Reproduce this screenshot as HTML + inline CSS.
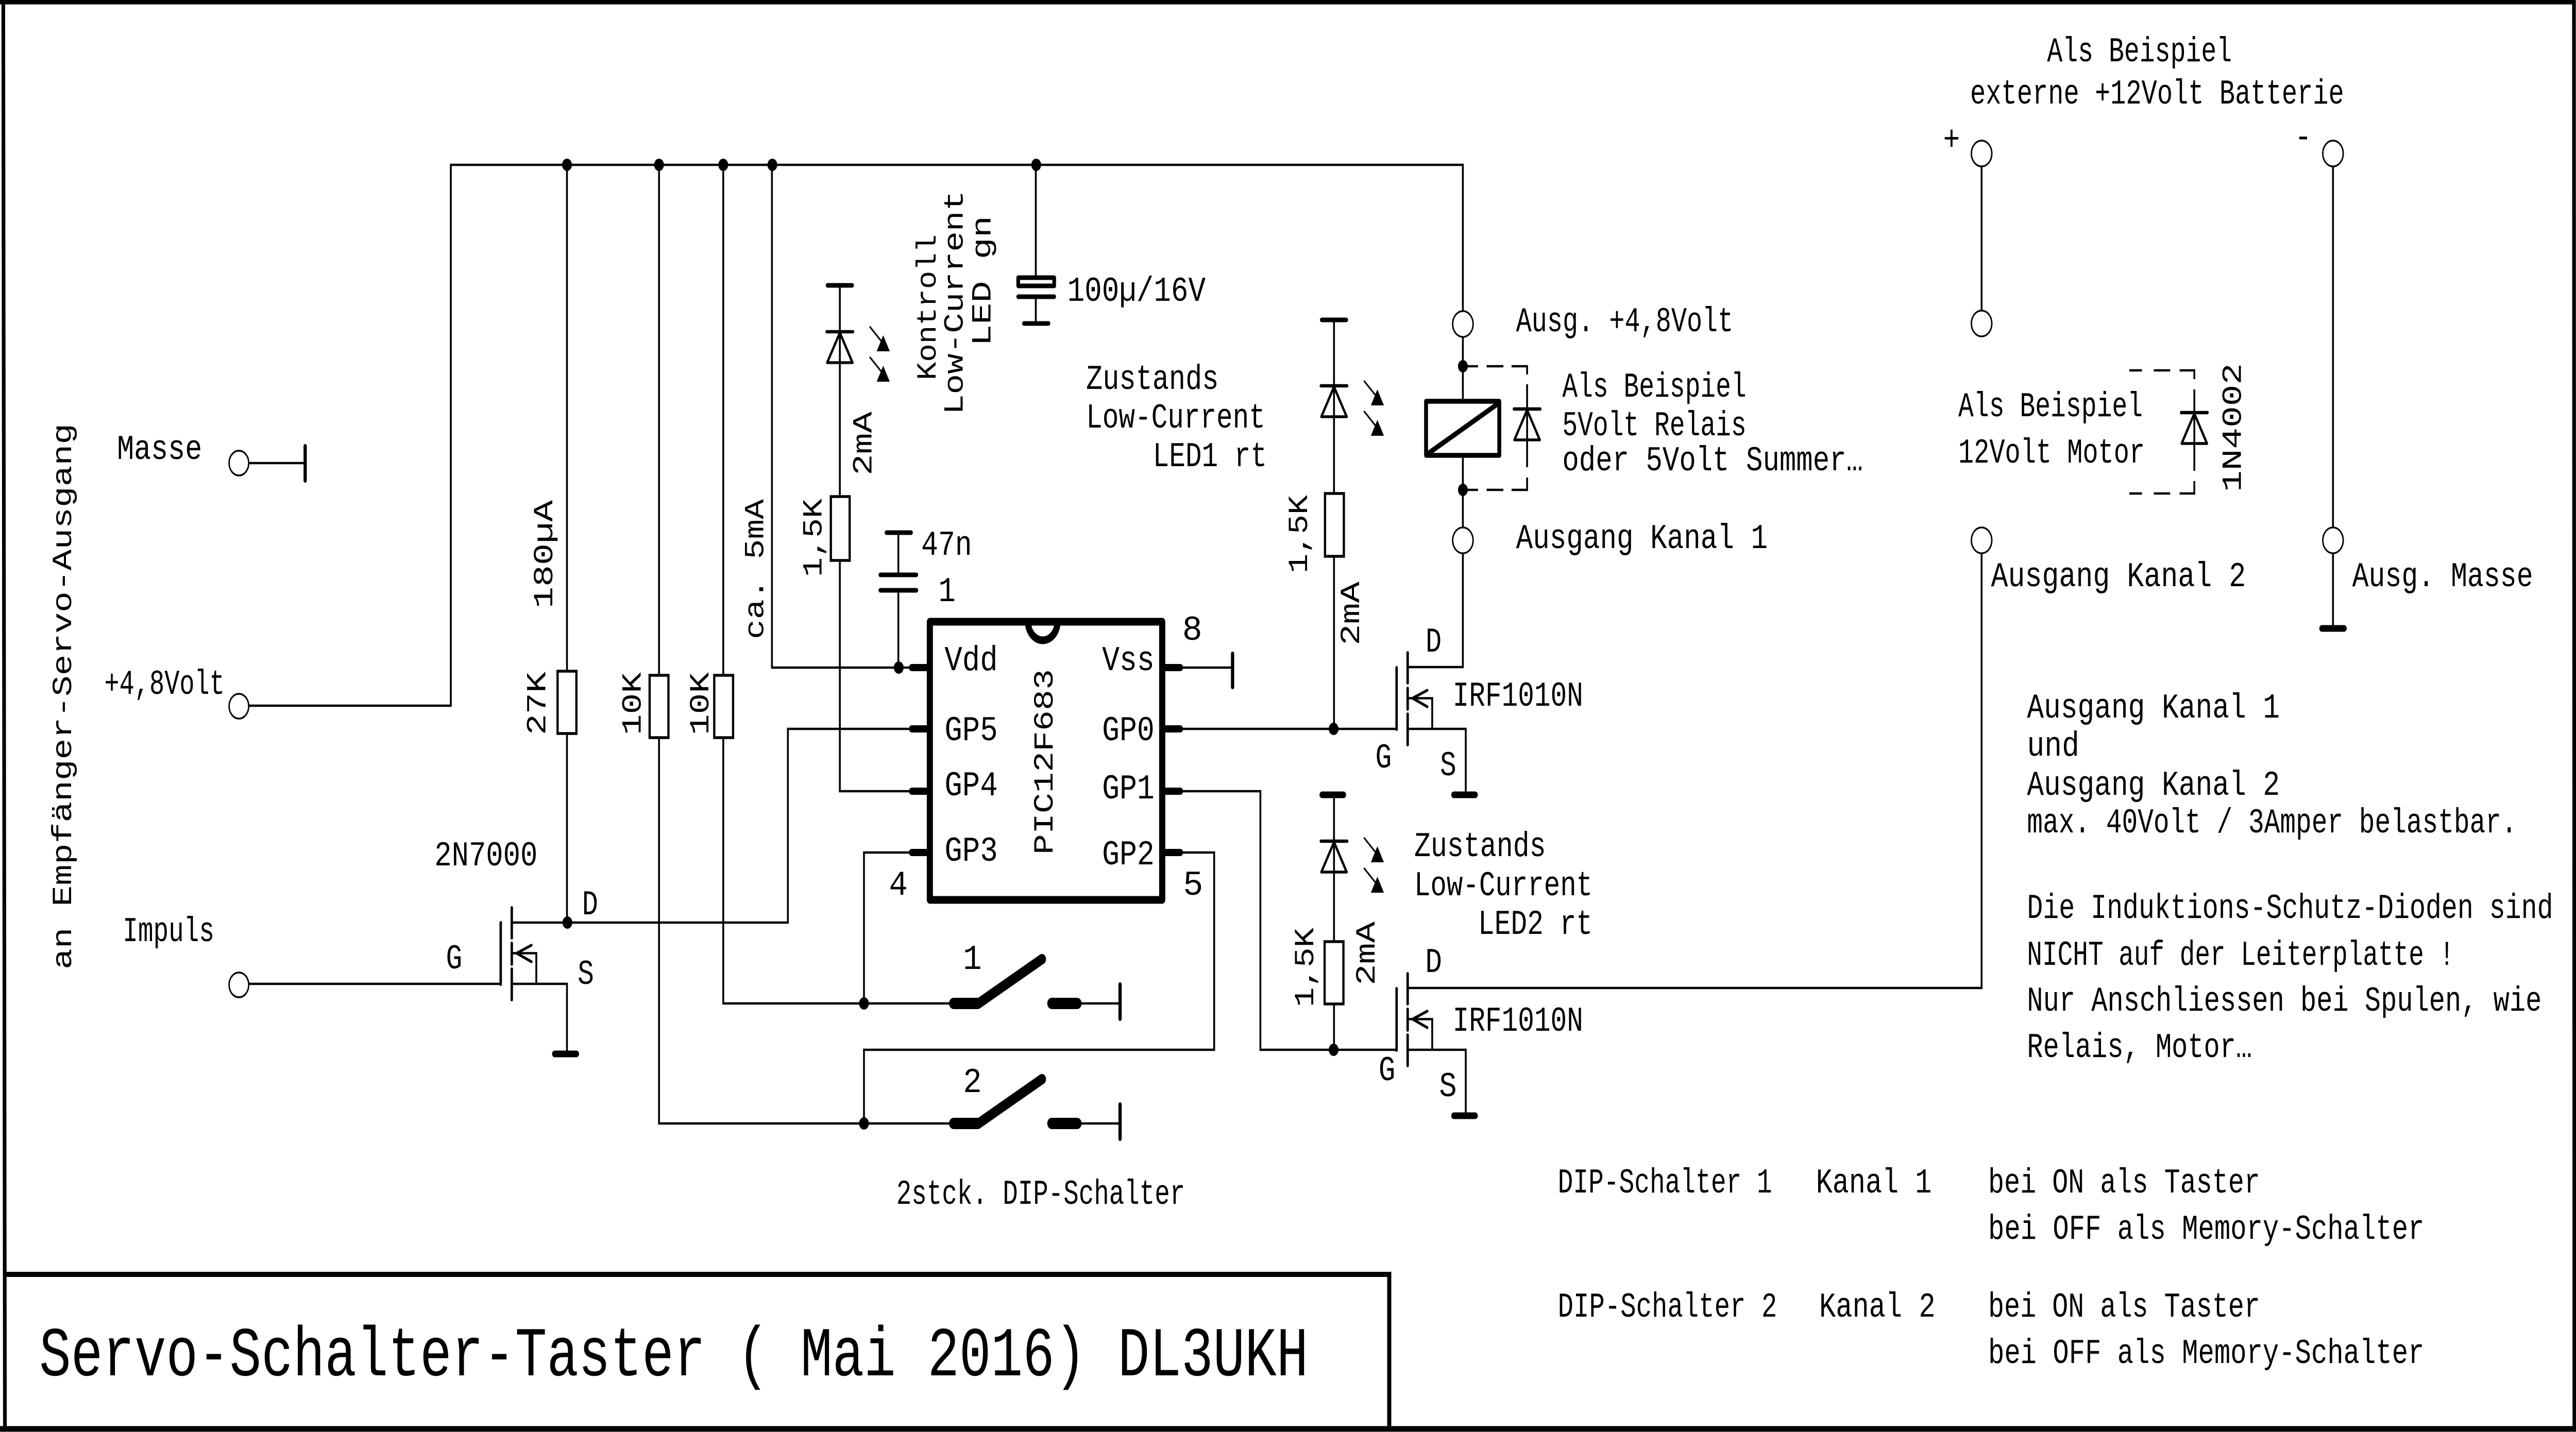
<!DOCTYPE html>
<html lang="de"><head><meta charset="utf-8"><title>Servo-Schalter-Taster</title>
<style>
html,body{margin:0;padding:0;background:#fff;width:100%;height:100%;overflow:hidden}
svg{display:block;position:fixed;left:0;top:0;width:100vw;height:100vh}
text{font-family:"Liberation Mono","DejaVu Sans Mono",monospace;font-size:68px;fill:#000}
.w{fill:none;stroke:#000;stroke-width:4.5;stroke-linejoin:miter}
.t{fill:#fff;stroke:#000;stroke-width:3.5}
.b{fill:none;stroke:#000;stroke-linecap:round}
.r{fill:#fff;stroke:#000;stroke-width:5.5}
</style></head><body>
<svg xmlns="http://www.w3.org/2000/svg" viewBox="0 0 6297 2780" preserveAspectRatio="none">
<defs>
<g id="diode"><path class="b" stroke-width="6.5" d="M-32 0H32"/><path fill="none" stroke="#000" stroke-width="5.5" stroke-linejoin="round" d="M0 2L-31 60H31Z"/></g>
<g id="arrows">
<path class="b" stroke-width="3.5" d="M74-9L100 17M74 50L100 76"/>
<path d="M106 7L122 38H90ZM106 66L122 97H90Z"/>
</g>
<g id="fet">
<path class="b" stroke-width="6" d="M3414 1296V1416M3441 1267V1326M3441 1336V1377M3441 1386V1446"/>
<path class="w" d="M3441 1355.5H3501V1415"/>
<path class="b" stroke-width="5.5" d="M3489 1340L3453 1355.5L3489 1372"/>
</g>
<g id="sw">
<path class="b" stroke-width="22" d="M2331 1948H2390"/>
<path fill="none" stroke="#000" stroke-width="20" stroke-linecap="round" stroke-linejoin="round" d="M2385 1948H2392L2547 1862"/>
<path class="b" stroke-width="22" d="M2571 1948H2633"/>
<path class="w" d="M2633 1948H2738"/>
<path class="b" stroke-width="8" d="M2738 1911V1978"/>
</g>
</defs>
<rect width="6297" height="2780" fill="#fff"/>

<!-- frame -->
<path fill="none" stroke="#000" stroke-width="9" d="M8 4L12 2774"/>
<path fill="none" stroke="#000" stroke-width="9" d="M0 4H6292L6293 2774"/>
<path fill="none" stroke="#000" stroke-width="11" d="M0 2774H6297"/>
<path fill="none" stroke="#000" stroke-width="10" d="M10 2474H3396V2774"/>

<!-- wires -->
<path class="w" d="M608 899H746"/>
<path class="b" stroke-width="8" d="M746 866V933"/>
<path class="w" d="M608 1370H1102V320H3576V604"/>
<path class="w" d="M1386 320V1303M1386 1424V1791"/>
<path class="w" d="M1611 320V1311M1611 1432V2181H2331"/>
<path class="w" d="M1768 320V1311M1768 1432V1948H2331"/>
<path class="w" d="M1887 320V1296H2229"/>
<path class="w" d="M2532 320V535M2532 576V628"/>
<path class="w" d="M2053 554V964M2053 1088V1536H2229"/>
<path class="w" d="M2196 1034V1116M2196 1146V1296"/>
<path class="w" d="M1251 1791H1926V1415H2229"/>
<path class="w" d="M2229 1655H2112V1948M2885 1655H2968V2038H2112V2181"/>
<path class="w" d="M2885 1415H3414"/>
<path class="w" d="M2885 1536H3081V2038H3414"/>
<path class="w" d="M2885 1296H3013"/>
<path class="b" stroke-width="8" d="M3013 1269V1334"/>
<path class="w" d="M3261 621V958M3261 1080V1415"/>
<path class="w" d="M3261 1543V1828M3261 1949V2038"/>
<path class="w" d="M3576 654V774M3576 889V1025M3576 1073V1295H3441"/>
<path class="w" d="M3441 1415H3583V1543"/>
<path class="w" d="M3441 2038H3583V2166"/>
<path class="w" d="M3441 1918H4844V1074"/>
<path class="w" d="M608 1910H1225"/>
<path class="w" d="M1251 1910H1386V2046"/>
<path class="w" d="M4844 298V628"/>
<path class="w" d="M5703 298V1220"/>

<!-- grounds / bars -->
<path class="b" stroke-width="13" d="M1356 2046H1409M3554 1543H3606M3232 1543H3284M3554 2166H3606M5676 1220H5730" />
<path class="b" stroke-width="9" d="M2023 554H2083M3231 621H3291M2167 1034H2227M2152 1116H2240M2152 1146H2240M2503 628H2563M2489 576H2577"/>
<rect x="2489" y="539" width="88" height="16" fill="#fff" stroke="#000" stroke-width="9" stroke-linejoin="round"/>

<!-- resistors -->
<rect class="r" x="1363" y="1303" width="46" height="121"/>
<rect class="r" x="1588" y="1311" width="46" height="121"/>
<rect class="r" x="1746" y="1311" width="46" height="121"/>
<rect class="r" x="2031" y="964" width="46" height="124"/>
<rect class="r" x="3239" y="958" width="46" height="122"/>
<rect class="r" x="3238" y="1828" width="46" height="121"/>

<!-- LEDs and diodes -->
<use href="#diode" x="2053" y="644"/><use href="#arrows" x="2053" y="644"/>
<use href="#diode" x="3261" y="749"/><use href="#arrows" x="3261" y="749"/>
<use href="#diode" x="3261" y="1633"/><use href="#arrows" x="3261" y="1636"/>

<!-- dashed relay diode -->
<path class="w" d="M3576 711H3613M3634 711H3675M3695 711H3733V727M3733 746V907M3733 927V951H3695M3675 951H3634M3613 951H3576"/>
<use href="#diode" x="3733" y="794"/>
<!-- relay -->
<rect x="3486" y="779" width="179" height="105" fill="#fff" stroke="#000" stroke-width="9.5" stroke-linejoin="round"/>
<path stroke="#000" stroke-width="10" d="M3490 881L3663 783"/>

<!-- dashed motor diode -->
<path class="w" d="M5205 719H5236M5265 719H5305M5328 719H5364V736M5364 756V914M5364 934V958H5328M5305 958H5265M5236 958H5205"/>
<use href="#diode" x="5364" y="801"/>

<!-- junctions -->
<g fill="#000">
<circle cx="1386" cy="320" r="12"/><circle cx="1611" cy="320" r="12"/><circle cx="1768" cy="320" r="12"/><circle cx="1888" cy="320" r="12"/><circle cx="2533" cy="320" r="12"/>
<circle cx="2197" cy="1296" r="12"/><circle cx="3260" cy="1415" r="12"/><circle cx="3260" cy="2038" r="12"/>
<circle cx="1387" cy="1791" r="12"/><circle cx="2112" cy="1948" r="12"/><circle cx="2112" cy="2181" r="12"/>
<circle cx="3576" cy="711" r="12"/><circle cx="3576" cy="951" r="12"/>
</g>

<!-- IC -->
<rect x="2273" y="1207" width="568" height="540" fill="none" stroke="#000" stroke-width="15" stroke-linejoin="round"/>
<path fill="none" stroke="#000" stroke-width="15" d="M2513 1207A36 36 0 0 0 2585 1207"/>
<path class="b" stroke-width="14" d="M2229 1296H2273M2229 1415H2273M2229 1536H2273M2229 1655H2273M2841 1296H2885M2841 1415H2885M2841 1536H2885M2841 1655H2885"/>

<!-- FETs -->
<use href="#fet"/>
<use href="#fet" y="623"/>
<use href="#fet" x="-2190" y="495"/>

<!-- switches -->
<use href="#sw"/>
<use href="#sw" y="233"/>

<!-- terminals -->
<circle class="t" cx="584" cy="899" r="24"/>
<circle class="t" cx="584" cy="1371" r="24"/>
<circle class="t" cx="584" cy="1912" r="24"/>
<circle class="t" cx="3576" cy="629" r="25"/>
<circle class="t" cx="3576" cy="1049" r="25"/>
<circle class="t" cx="4844" cy="298" r="25"/>
<circle class="t" cx="4844" cy="628" r="25"/>
<circle class="t" cx="4844" cy="1049" r="25"/>
<circle class="t" cx="5703" cy="298" r="25"/>
<circle class="t" cx="5703" cy="1049" r="25"/>

<!-- horizontal labels -->
<g>
<text x="286" y="891" textLength="208" lengthAdjust="spacingAndGlyphs">Masse</text>
<text x="255" y="1347" textLength="294" lengthAdjust="spacingAndGlyphs">+4,8Volt</text>
<text x="300" y="1827" textLength="224" lengthAdjust="spacingAndGlyphs">Impuls</text>
<text x="1062" y="1680" textLength="252" lengthAdjust="spacingAndGlyphs">2N7000</text>
<text x="1423" y="1775" textLength="39" lengthAdjust="spacingAndGlyphs">D</text>
<text x="1090" y="1880" textLength="40" lengthAdjust="spacingAndGlyphs">G</text>
<text x="1412" y="1910" textLength="40" lengthAdjust="spacingAndGlyphs">S</text>
<text x="2252" y="1077" textLength="124" lengthAdjust="spacingAndGlyphs">47n</text>
<text x="2294" y="1167" textLength="42" lengthAdjust="spacingAndGlyphs">1</text>
<text x="2890" y="1242" textLength="49" lengthAdjust="spacingAndGlyphs">8</text>
<text x="2173" y="1737" textLength="46" lengthAdjust="spacingAndGlyphs">4</text>
<text x="2892" y="1737" textLength="49" lengthAdjust="spacingAndGlyphs">5</text>
<text x="2309" y="1301" textLength="130" lengthAdjust="spacingAndGlyphs">Vdd</text>
<text x="2694" y="1301" textLength="128" lengthAdjust="spacingAndGlyphs">Vss</text>
<text x="2309" y="1437" textLength="130" lengthAdjust="spacingAndGlyphs">GP5</text>
<text x="2694" y="1437" textLength="128" lengthAdjust="spacingAndGlyphs">GP0</text>
<text x="2309" y="1544" textLength="130" lengthAdjust="spacingAndGlyphs">GP4</text>
<text x="2694" y="1550" textLength="128" lengthAdjust="spacingAndGlyphs">GP1</text>
<text x="2309" y="1671" textLength="130" lengthAdjust="spacingAndGlyphs">GP3</text>
<text x="2694" y="1678" textLength="128" lengthAdjust="spacingAndGlyphs">GP2</text>
<text x="2354" y="1881" textLength="46" lengthAdjust="spacingAndGlyphs">1</text>
<text x="2354" y="2120" textLength="46" lengthAdjust="spacingAndGlyphs">2</text>
<text x="2191" y="2337" textLength="706" lengthAdjust="spacingAndGlyphs">2stck. DIP-Schalter</text>
<text x="2609" y="584" textLength="338" lengthAdjust="spacingAndGlyphs">100µ/16V</text>
<text x="2655" y="755" textLength="324" lengthAdjust="spacingAndGlyphs">Zustands</text>
<text x="2655" y="830" textLength="438" lengthAdjust="spacingAndGlyphs">Low-Current</text>
<text x="2818" y="905" textLength="279" lengthAdjust="spacingAndGlyphs">LED1 rt</text>
<text x="3457" y="1662" textLength="322" lengthAdjust="spacingAndGlyphs">Zustands</text>
<text x="3457" y="1738" textLength="436" lengthAdjust="spacingAndGlyphs">Low-Current</text>
<text x="3613" y="1813" textLength="280" lengthAdjust="spacingAndGlyphs">LED2 rt</text>
<text x="3485" y="1265" textLength="39" lengthAdjust="spacingAndGlyphs">D</text>
<text x="3362" y="1490" textLength="40" lengthAdjust="spacingAndGlyphs">G</text>
<text x="3520" y="1505" textLength="40" lengthAdjust="spacingAndGlyphs">S</text>
<text x="3551" y="1370" textLength="319" lengthAdjust="spacingAndGlyphs">IRF1010N</text>
<text x="3484" y="1887" textLength="41" lengthAdjust="spacingAndGlyphs">D</text>
<text x="3370" y="2097" textLength="41" lengthAdjust="spacingAndGlyphs">G</text>
<text x="3518" y="2128" textLength="43" lengthAdjust="spacingAndGlyphs">S</text>
<text x="3551" y="2001" textLength="319" lengthAdjust="spacingAndGlyphs">IRF1010N</text>
<text x="3706" y="643" textLength="531" lengthAdjust="spacingAndGlyphs">Ausg. +4,8Volt</text>
<text x="3706" y="1064" textLength="615" lengthAdjust="spacingAndGlyphs">Ausgang Kanal 1</text>
<text x="3819" y="770" textLength="450" lengthAdjust="spacingAndGlyphs">Als Beispiel</text>
<text x="3819" y="845" textLength="450" lengthAdjust="spacingAndGlyphs">5Volt Relais</text>
<text x="3819" y="913" textLength="735" lengthAdjust="spacingAndGlyphs">oder 5Volt Summer…</text>
<text x="5004" y="119" textLength="452" lengthAdjust="spacingAndGlyphs">Als Beispiel</text>
<text x="4816" y="201" textLength="914" lengthAdjust="spacingAndGlyphs">externe +12Volt Batterie</text>
<text x="4750" y="291" textLength="41" lengthAdjust="spacingAndGlyphs">+</text>
<text x="5609" y="286" textLength="42" lengthAdjust="spacingAndGlyphs">-</text>
<text x="4787" y="808" textLength="451" lengthAdjust="spacingAndGlyphs">Als Beispiel</text>
<text x="4787" y="898" textLength="456" lengthAdjust="spacingAndGlyphs">12Volt Motor</text>
<text x="4867" y="1138" textLength="623" lengthAdjust="spacingAndGlyphs">Ausgang Kanal 2</text>
<text x="5750" y="1138" textLength="442" lengthAdjust="spacingAndGlyphs">Ausg. Masse</text>
<text x="4955" y="1393" textLength="618" lengthAdjust="spacingAndGlyphs">Ausgang Kanal 1</text>
<text x="4955" y="1467" textLength="128" lengthAdjust="spacingAndGlyphs">und</text>
<text x="4955" y="1543" textLength="618" lengthAdjust="spacingAndGlyphs">Ausgang Kanal 2</text>
<text x="4955" y="1616" textLength="1198" lengthAdjust="spacingAndGlyphs">max. 40Volt / 3Amper belastbar.</text>
<text x="4955" y="1782" textLength="1286" lengthAdjust="spacingAndGlyphs">Die Induktions-Schutz-Dioden sind</text>
<text x="4955" y="1873" textLength="1045" lengthAdjust="spacingAndGlyphs">NICHT auf der Leiterplatte !</text>
<text x="4955" y="1962" textLength="1258" lengthAdjust="spacingAndGlyphs">Nur Anschliessen bei Spulen, wie</text>
<text x="4955" y="2052" textLength="550" lengthAdjust="spacingAndGlyphs">Relais, Motor…</text>
<text x="3808" y="2315" textLength="524" lengthAdjust="spacingAndGlyphs">DIP-Schalter 1</text>
<text x="4439" y="2315" textLength="283" lengthAdjust="spacingAndGlyphs">Kanal 1</text>
<text x="4860" y="2315" textLength="665" lengthAdjust="spacingAndGlyphs">bei ON als Taster</text>
<text x="4860" y="2405" textLength="1066" lengthAdjust="spacingAndGlyphs">bei OFF als Memory-Schalter</text>
<text x="3808" y="2556" textLength="536" lengthAdjust="spacingAndGlyphs">DIP-Schalter 2</text>
<text x="4447" y="2556" textLength="284" lengthAdjust="spacingAndGlyphs">Kanal 2</text>
<text x="4860" y="2556" textLength="665" lengthAdjust="spacingAndGlyphs">bei ON als Taster</text>
<text x="4860" y="2646" textLength="1066" lengthAdjust="spacingAndGlyphs">bei OFF als Memory-Schalter</text>
<text x="96" y="2670" textLength="3102" lengthAdjust="spacingAndGlyphs" style="font-size:136px">Servo-Schalter-Taster ( Mai 2016) DL3UKH</text>
</g>

<!-- rotated labels -->
<text transform="rotate(-90 174 1882)" x="174" y="1882" textLength="1060" lengthAdjust="spacingAndGlyphs">an Empfänger-Servo-Ausgang</text>
<text transform="rotate(-90 1350 1181)" x="1350" y="1181" textLength="210" lengthAdjust="spacingAndGlyphs">180µA</text>
<text transform="rotate(-90 1333 1427)" x="1333" y="1427" textLength="123" lengthAdjust="spacingAndGlyphs">27K</text>
<text transform="rotate(-90 1566 1427)" x="1566" y="1427" textLength="122" lengthAdjust="spacingAndGlyphs">10K</text>
<text transform="rotate(-90 1732 1427)" x="1732" y="1427" textLength="122" lengthAdjust="spacingAndGlyphs">10K</text>
<text transform="rotate(-90 1866 1241)" x="1866" y="1241" textLength="272" lengthAdjust="spacingAndGlyphs">ca. 5mA</text>
<text transform="rotate(-90 2008 1120)" x="2008" y="1120" textLength="152" lengthAdjust="spacingAndGlyphs">1,5K</text>
<text transform="rotate(-90 2130 923)" x="2130" y="923" textLength="124" lengthAdjust="spacingAndGlyphs">2mA</text>
<text transform="rotate(-90 2287 738)" x="2287" y="738" textLength="283" lengthAdjust="spacingAndGlyphs">Kontroll</text>
<text transform="rotate(-90 2353 805)" x="2353" y="805" textLength="435" lengthAdjust="spacingAndGlyphs">Low-Current</text>
<text transform="rotate(-90 2421 672)" x="2421" y="672" textLength="253" lengthAdjust="spacingAndGlyphs">LED gn</text>
<text transform="rotate(-90 2573 1659)" x="2573" y="1659" textLength="360" lengthAdjust="spacingAndGlyphs">PIC12F683</text>
<text transform="rotate(-90 3195 1113)" x="3195" y="1113" textLength="152" lengthAdjust="spacingAndGlyphs">1,5K</text>
<text transform="rotate(-90 3322 1253)" x="3322" y="1253" textLength="124" lengthAdjust="spacingAndGlyphs">2mA</text>
<text transform="rotate(-90 3210 1955)" x="3210" y="1955" textLength="154" lengthAdjust="spacingAndGlyphs">1,5K</text>
<text transform="rotate(-90 3360 1913)" x="3360" y="1913" textLength="124" lengthAdjust="spacingAndGlyphs">2mA</text>
<text transform="rotate(-90 5478 955)" x="5478" y="955" textLength="250" lengthAdjust="spacingAndGlyphs">1N4002</text>
</svg>
</body></html>
